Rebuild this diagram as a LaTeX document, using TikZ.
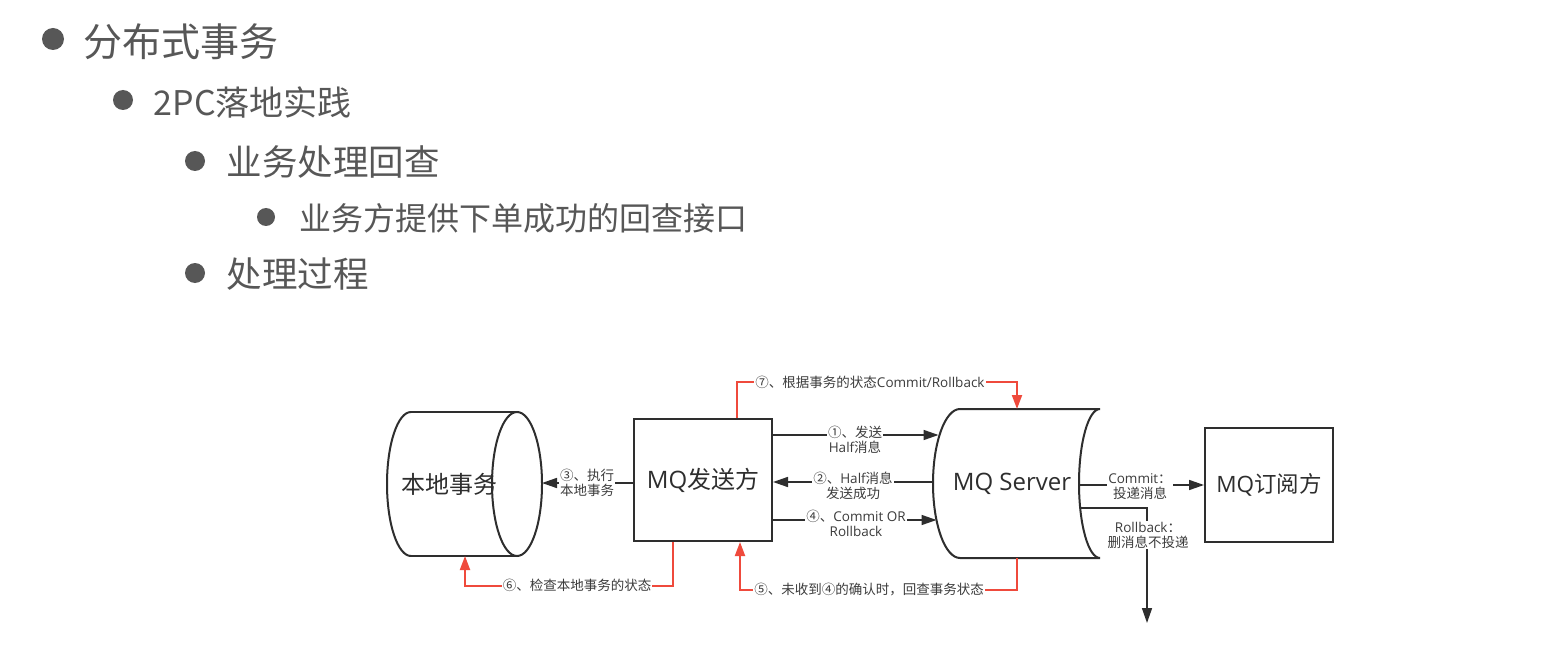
\documentclass[tikz,border=0pt]{standalone}
\usepackage{fontspec}
\setmainfont{Noto Sans CJK SC}
\newfontfamily\lat{Open Sans}
\usetikzlibrary{arrows.meta,calc}
\definecolor{ink}{HTML}{2E2E2E}
\definecolor{slidegray}{HTML}{575757}
\definecolor{labelgray}{HTML}{3C3C3C}
\definecolor{alert}{HTML}{EF4A3C}
\tikzset{
  bulletdot/.style={circle, fill=slidegray, inner sep=0pt},
  item/.style={anchor=base west, inner sep=0pt, text=slidegray},
  box/.style={draw=ink, line width=2pt, inner sep=0pt, text=ink, font=\fontsize{24}{28}\selectfont},
  boxtext/.style={inner sep=0pt, text=ink, font=\fontsize{24}{28}\selectfont},
  shapeline/.style={draw=ink, line width=2pt},
  msg/.style={draw=ink, line width=1.6pt, -{Triangle[length=15pt,width=10pt]}},
  back/.style={draw=alert, line width=2pt, -{Triangle[length=14pt,width=10pt]}},
  lbl/.style={fill=white, inner sep=1pt, align=center, text=labelgray, font=\fontsize{13.5}{15}\selectfont},
}
\begin{document}
\begin{tikzpicture}[x=1pt,y=-1pt]
\useasboundingbox[fill=white] (0,0) rectangle (1555,663);

% outline of the slide
\node[bulletdot, minimum size=22pt] (b1) at (53,39) {};
\node[item, font=\fontsize{39}{42}\selectfont] (t1) at (83.5,56.3) {分布式事务};
\node[bulletdot, minimum size=20pt] (b2) at (123,100) {};
\node[item, font=\fontsize{34}{36}\selectfont] (t2) at (153.5,116) {2PC落地实践};
\node[bulletdot, minimum size=20pt] (b3) at (195,161) {};
\node[item, font=\fontsize{35.5}{38}\selectfont] (t3) at (226.5,175.5) {业务处理回查};
\node[bulletdot, minimum size=18pt] (b4) at (266,217) {};
\node[item, font=\fontsize{32}{34}\selectfont] (t4) at (299,230.7) {业务方提供下单成功的回查接口};
\node[bulletdot, minimum size=20pt] (b5) at (195,273) {};
\node[item, font=\fontsize{35.5}{38}\selectfont] (t5) at (226.5,287.5) {处理过程};

% local transaction store (horizontal cylinder)
\draw[shapeline] (411,412) -- (517,412) (411,556) -- (517,556);
\draw[shapeline] (411,412) .. controls (397.7,412) and (387,444.2) .. (387,484)
  .. controls (387,523.8) and (397.7,556) .. (411,556);
\draw[shapeline] (517,484) ellipse [x radius=25, y radius=72];
\node[boxtext] (ls) at (449.5,484) {本地事务};
\coordinate (ls-e) at (542,483);
\coordinate (ls-s) at (465,556);

% producer
\node[box, minimum width=138pt, minimum height=122pt] (snd) at (703,480) {{\lat MQ}发送方};

% broker
\draw[shapeline] (960,409) -- (1100,409)
  .. controls (1088.4,409) and (1079,442.4) .. (1079,483.5)
  .. controls (1079,524.6) and (1088.4,558) .. (1100,558)
  -- (960,558)
  .. controls (945.1,558) and (933,524.6) .. (933,483.5)
  .. controls (933,442.4) and (945.1,409) .. cycle;
\node[boxtext] (srv) at (1012,484) {\lat MQ Server};
\coordinate (srv-a) at (938.5,435);
\coordinate (srv-b) at (933,482);
\coordinate (srv-c) at (936.5,520);
\coordinate (srv-d) at (1079,485);
\coordinate (srv-e) at (1080,508);
\coordinate (srv-top) at (1017,409);
\coordinate (srv-bot) at (1017,558);

% consumer
\node[box, minimum width=128pt, minimum height=114pt, font=\fontsize{22.5}{26}\selectfont] (sub) at (1269,485) {{\lat MQ}订阅方};
\coordinate (drop) at (1147,623);

% message flow
\draw[msg] (srv-a -| snd.east) -- (srv-a);
\draw[msg] (srv-b) -- (srv-b -| snd.east);
\draw[msg] (srv-c -| snd.east) -- (srv-c);
\draw[msg] (ls-e -| snd.west) -- (ls-e);
\draw[msg] (srv-d) -- (srv-d -| sub.west);
\draw[msg] (srv-e) -| (drop);

% check-back loops
\draw[back] ([xshift=34pt]snd.north) |- ($(srv-top)+(0,-27)$) -| (srv-top);
\draw[back] (srv-bot) -- ++(0,32) -| ([xshift=37pt]snd.south);
\draw[back] ([xshift=-30pt]snd.south) -- ++(0,44) -| (ls-s);

% labels
\node[lbl] (l1) at (855,440) {①、发送\\{\lat Half}消息};
\node[lbl] (l2) at (853,486) {②、{\lat Half}消息\\发送成功};
\node[lbl] (l4) at (856,523.5) {④、{\lat Commit OR}\\{\lat Rollback}};
\node[lbl] (l3) at (587,483) {③、执行\\本地事务};
\node[lbl] (lc) at (1140,487) {{\lat Commit}：\\投递消息};
\node[lbl] (lr) at (1148,535) {{\lat Rollback}：\\删消息不投递};
\node[lbl] (l6) at (577,585) {⑥、检查本地事务的状态};
\node[lbl] (l5) at (869,590) {⑤、未收到④的确认时，回查事务状态};
\node[lbl] (l7) at (870,382) {⑦、根据事务的状态{\lat Commit/Rollback}};
\end{tikzpicture}
\end{document}
